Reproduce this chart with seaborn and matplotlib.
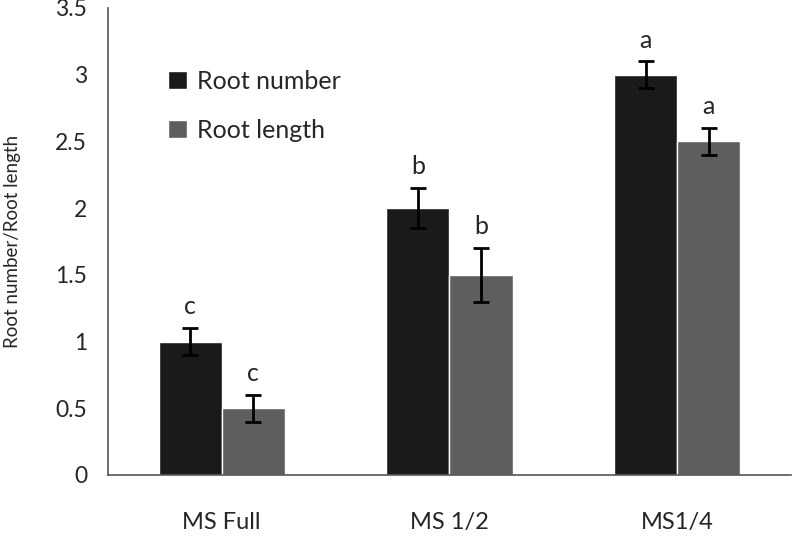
import seaborn as sns
import pandas as pd
import matplotlib.pyplot as plt
import numpy as np

media = ["MS Full", "MS 1/2", "MS1/4"]
root_number = [1.0, 2.0, 3.0]
root_number_err = [0.1, 0.15, 0.1]
root_length = [0.5, 1.5, 2.5]
root_length_err = [0.1, 0.2, 0.1]
letters_number = ["c", "b", "a"]
letters_length = ["c", "b", "a"]

sns.set_style("white")
plt.rcParams['font.family'] = ['Lato', 'DejaVu Sans']

df = pd.DataFrame({
    'Medium': media * 2,
    'Value': root_number + root_length,
    'Trait': ['Root number'] * 3 + ['Root length'] * 3,
})

fig = plt.figure(figsize=(7.93, 5.54), dpi=100)
ax = fig.add_axes([0.136, 0.1426, 0.8615, 0.843])
sns.barplot(data=df, x='Medium', y='Value', hue='Trait', ax=ax,
            palette=['#1a1a1a', '#5e5e5e'], width=0.555, errorbar=None,
            edgecolor='white', linewidth=1, saturation=1, legend=False)

bars = list(ax.containers)
errs = [root_number_err, root_length_err]
labs = [letters_number, letters_length]
for cont, err, lab in zip(bars, errs, labs):
    xs = [p.get_x() + p.get_width() / 2 for p in cont.patches]
    ys = [p.get_height() for p in cont.patches]
    ax.errorbar(xs, ys, yerr=err, fmt='none', ecolor='black',
                elinewidth=2, capsize=6, capthick=2)
    for x, y, e, t in zip(xs, ys, err, lab):
        ax.annotate(t, (x, y + e), xytext=(0, 7), textcoords='offset points',
                    ha='center', va='bottom', fontsize=18)

ax.set_ylim(0, 3.5)
ax.set_xlim(-0.5, 2.5)
ax.set_yticks(np.arange(0, 3.51, 0.5))
ax.set_yticklabels(['0', '0.5', '1', '1.5', '2', '2.5', '3', '3.5'])
ax.set_xticks([-0.5, 0.5, 1.5, 2.5], minor=True)
ax.tick_params(axis='x', which='major', length=0, labelsize=17, pad=27)
ax.tick_params(axis='x', which='minor', length=7, width=1.2, color='#555555', direction='out')
ax.tick_params(axis='y', length=8, width=1.2, color='#555555', direction='out',
               labelsize=16.5, pad=7)
ax.set_xlabel('')
ax.set_ylabel('Root number/Root length', fontsize=13.5)
ax.yaxis.set_label_coords(-0.127, 0.5)

sns.despine(ax=ax)
for s in ['left', 'bottom']:
    ax.spines[s].set_color('#555555')
    ax.spines[s].set_linewidth(1.2)

ax.legend([b.patches[0] for b in bars], ['Root number', 'Root length'],
          loc='upper left', bbox_to_anchor=(0.088, 0.868), frameon=False,
          borderpad=0, borderaxespad=0,
          fontsize=18, handlelength=0.75, handleheight=0.75, handletextpad=0.4,
          labelspacing=1.05)

fig.savefig('out.png', dpi=100)
